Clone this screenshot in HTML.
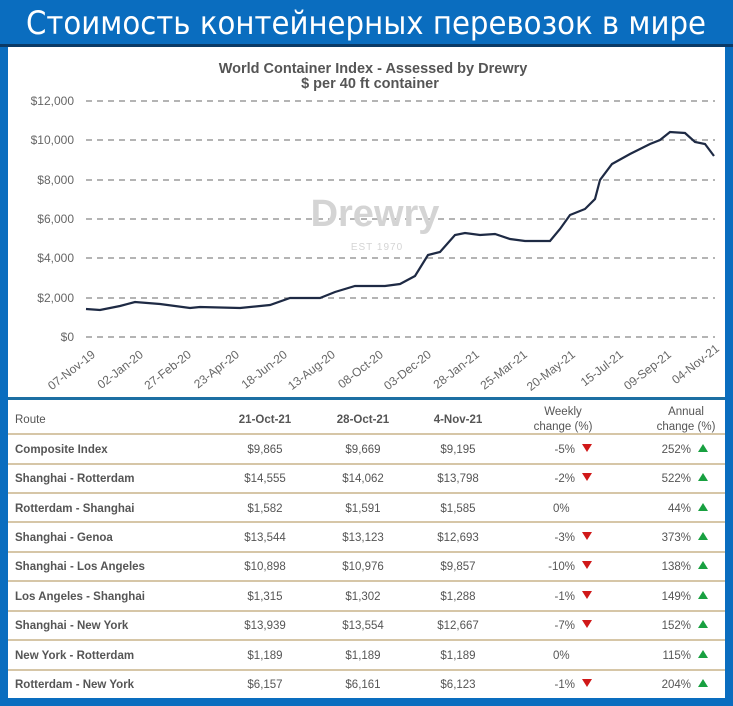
<!DOCTYPE html>
<html><head><meta charset="utf-8"><style>
body{margin:0;width:733px;height:701px;background:#0a6dbf;overflow:hidden;font-family:"Liberation Sans",Arial,sans-serif}
</style></head><body>
<svg width="733" height="701" xmlns="http://www.w3.org/2000/svg" font-family="Liberation Sans, Arial, sans-serif">
<rect width="733" height="701" fill="#0a6dbf"/>
<text x="366" y="34" text-anchor="middle" font-family="DejaVu Sans, Liberation Sans, sans-serif" font-size="32" fill="#fff" textLength="680" lengthAdjust="spacingAndGlyphs">Стоимость контейнерных перевозок в мире</text>
<rect x="0" y="44" width="733" height="3" fill="#0b3a66"/>
<rect x="8" y="47" width="717" height="651" fill="#fff"/>
<rect x="8" y="397" width="717" height="3" fill="#1d6fa3"/>
<text x="373" y="73" text-anchor="middle" font-size="14.5" font-weight="bold" fill="#555">World Container Index - Assessed by Drewry</text>
<text x="370" y="88" text-anchor="middle" font-size="14.5" font-weight="bold" fill="#555">$ per 40 ft container</text>
<g stroke="#888" stroke-width="1.3" stroke-dasharray="6,5">
<line x1="86" y1="101" x2="715" y2="101"/><line x1="86" y1="140" x2="715" y2="140"/><line x1="86" y1="180" x2="715" y2="180"/><line x1="86" y1="219" x2="715" y2="219"/><line x1="86" y1="258" x2="715" y2="258"/><line x1="86" y1="298" x2="715" y2="298"/><line x1="86" y1="337" x2="715" y2="337"/>
</g>
<g font-size="12" fill="#666" text-anchor="end">
<text x="74" y="105">$12,000</text><text x="74" y="144">$10,000</text><text x="74" y="184">$8,000</text><text x="74" y="223">$6,000</text><text x="74" y="262">$4,000</text><text x="74" y="302">$2,000</text><text x="74" y="341">$0</text>
</g>
<text x="375" y="226" text-anchor="middle" font-size="38" font-weight="bold" fill="#d4d4d4">Drewry</text>
<text x="377" y="250" text-anchor="middle" font-size="10" fill="#d4d4d4" letter-spacing="1">EST 1970</text>
<polyline fill="none" stroke="#1e2a44" stroke-width="2.2" points="86,309 100,310 120,306 135,302 160,304 190,308 200,307 240,308 270,305 290,298 320,298 335,292 355,286 385,286 400,284 415,276 428,255 440,252 455,235 465,233 480,235 495,234 510,239 525,241 550,241 560,229 570,215 585,209 595,199 600,180 612,164 630,154 650,144 660,140 670,132 685,133 695,142 705,144 714,156"/>
<g font-size="12" fill="#666" text-anchor="end">
<text transform="translate(96,356) rotate(-38)">07-Nov-19</text>
<text transform="translate(144,356) rotate(-38)">02-Jan-20</text>
<text transform="translate(192,356) rotate(-38)">27-Feb-20</text>
<text transform="translate(240,356) rotate(-38)">23-Apr-20</text>
<text transform="translate(288,356) rotate(-38)">18-Jun-20</text>
<text transform="translate(336,356) rotate(-38)">13-Aug-20</text>
<text transform="translate(384,356) rotate(-38)">08-Oct-20</text>
<text transform="translate(432,356) rotate(-38)">03-Dec-20</text>
<text transform="translate(480,356) rotate(-38)">28-Jan-21</text>
<text transform="translate(528,356) rotate(-38)">25-Mar-21</text>
<text transform="translate(576,356) rotate(-38)">20-May-21</text>
<text transform="translate(624,356) rotate(-38)">15-Jul-21</text>
<text transform="translate(672,356) rotate(-38)">09-Sep-21</text>
<text transform="translate(720,350) rotate(-38)">04-Nov-21</text>
</g>
<g font-size="11.5" fill="#555">
<text x="15" y="423">Route</text>
<text x="265" y="423" text-anchor="middle" font-weight="bold">21-Oct-21</text>
<text x="363" y="423" text-anchor="middle" font-weight="bold">28-Oct-21</text>
<text x="458" y="423" text-anchor="middle" font-weight="bold">4-Nov-21</text>
<text x="563" y="415" text-anchor="middle">Weekly</text><text x="563" y="430" text-anchor="middle">change (%)</text>
<text x="686" y="415" text-anchor="middle">Annual</text><text x="686" y="430" text-anchor="middle">change (%)</text>
</g>
<g stroke="#c9b48a" stroke-width="1.5">
<line x1="8" y1="434" x2="725" y2="434"/><line x1="8" y1="464" x2="725" y2="464"/><line x1="8" y1="493" x2="725" y2="493"/><line x1="8" y1="522" x2="725" y2="522"/><line x1="8" y1="552" x2="725" y2="552"/><line x1="8" y1="581" x2="725" y2="581"/><line x1="8" y1="611" x2="725" y2="611"/><line x1="8" y1="640" x2="725" y2="640"/><line x1="8" y1="670" x2="725" y2="670"/>
</g>
<g font-size="11.5" fill="#555">
<g font-weight="bold">
<text x="15" y="453">Composite Index</text><text x="15" y="482">Shanghai - Rotterdam</text><text x="15" y="512">Rotterdam - Shanghai</text><text x="15" y="541">Shanghai - Genoa</text><text x="15" y="570">Shanghai - Los Angeles</text><text x="15" y="600">Los Angeles - Shanghai</text><text x="15" y="629">Shanghai - New York</text><text x="15" y="659">New York - Rotterdam</text><text x="15" y="688">Rotterdam - New York</text>
</g>
<g text-anchor="middle">
<text x="265" y="453">$9,865</text><text x="363" y="453">$9,669</text><text x="458" y="453">$9,195</text>
<text x="265" y="482">$14,555</text><text x="363" y="482">$14,062</text><text x="458" y="482">$13,798</text>
<text x="265" y="512">$1,582</text><text x="363" y="512">$1,591</text><text x="458" y="512">$1,585</text>
<text x="265" y="541">$13,544</text><text x="363" y="541">$13,123</text><text x="458" y="541">$12,693</text>
<text x="265" y="570">$10,898</text><text x="363" y="570">$10,976</text><text x="458" y="570">$9,857</text>
<text x="265" y="600">$1,315</text><text x="363" y="600">$1,302</text><text x="458" y="600">$1,288</text>
<text x="265" y="629">$13,939</text><text x="363" y="629">$13,554</text><text x="458" y="629">$12,667</text>
<text x="265" y="659">$1,189</text><text x="363" y="659">$1,189</text><text x="458" y="659">$1,189</text>
<text x="265" y="688">$6,157</text><text x="363" y="688">$6,161</text><text x="458" y="688">$6,123</text>
</g>
<g text-anchor="end">
<text x="575" y="453">-5%</text><text x="575" y="482">-2%</text><text x="575" y="541">-3%</text><text x="575" y="570">-10%</text><text x="575" y="600">-1%</text><text x="575" y="629">-7%</text><text x="575" y="688">-1%</text>
<text x="691" y="453">252%</text><text x="691" y="482">522%</text><text x="691" y="512">44%</text><text x="691" y="541">373%</text><text x="691" y="570">138%</text><text x="691" y="600">149%</text><text x="691" y="629">152%</text><text x="691" y="659">115%</text><text x="691" y="688">204%</text>
</g>
<text x="553" y="512">0%</text><text x="553" y="659">0%</text>
</g>
<g fill="#d01818">
<path d="M582,444h10l-5,8z"/><path d="M582,473h10l-5,8z"/><path d="M582,532h10l-5,8z"/><path d="M582,561h10l-5,8z"/><path d="M582,591h10l-5,8z"/><path d="M582,620h10l-5,8z"/><path d="M582,679h10l-5,8z"/>
</g>
<g fill="#18a040">
<path d="M698,452h10l-5,-8z"/><path d="M698,481h10l-5,-8z"/><path d="M698,511h10l-5,-8z"/><path d="M698,540h10l-5,-8z"/><path d="M698,569h10l-5,-8z"/><path d="M698,599h10l-5,-8z"/><path d="M698,628h10l-5,-8z"/><path d="M698,658h10l-5,-8z"/><path d="M698,687h10l-5,-8z"/>
</g>
</svg>
</body></html>
